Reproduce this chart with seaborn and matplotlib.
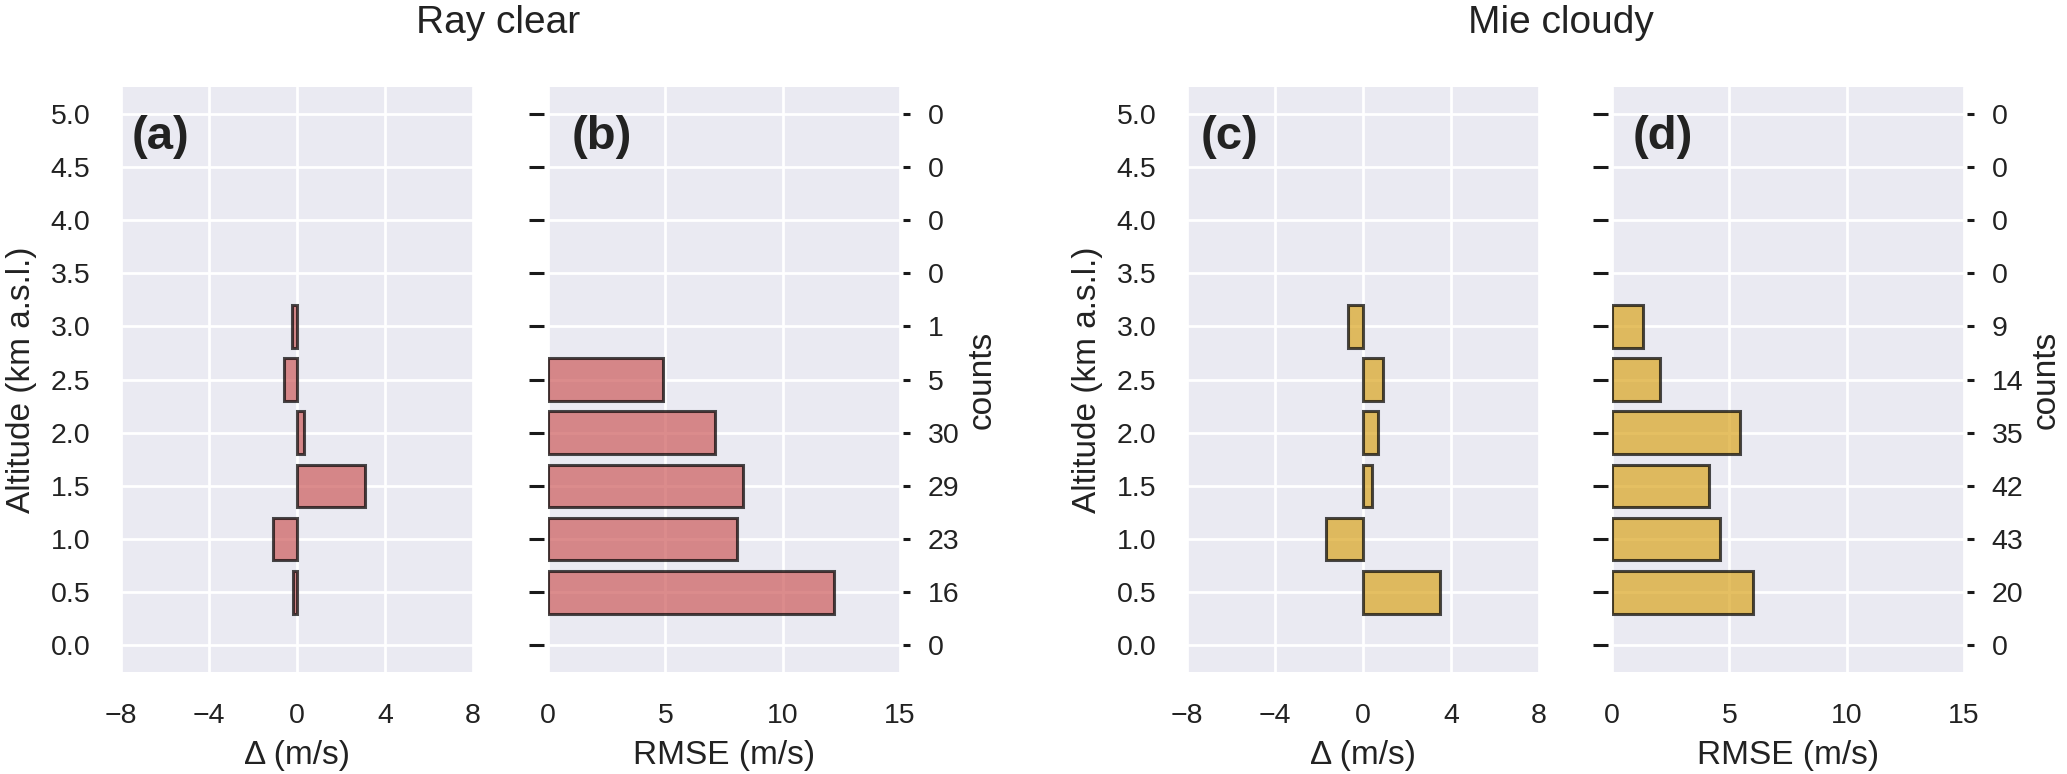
import numpy as np
import pandas as pd
import matplotlib
matplotlib.use("Agg")
import matplotlib.pyplot as plt
import seaborn as sns

# ---- data ----
alt_ticks = [0.0, 0.5, 1.0, 1.5, 2.0, 2.5, 3.0, 3.5, 4.0, 4.5, 5.0]
bar_alts = [0.5, 1.0, 1.5, 2.0, 2.5, 3.0]

ray_delta = [-0.2, -1.1, 3.1, 0.3, -0.6, -0.25]
ray_rmse = [12.2, 8.05, 8.3, 7.1, 4.9, np.nan]
ray_counts = [0, 16, 23, 29, 30, 5, 1, 0, 0, 0, 0]

mie_delta = [3.5, -1.7, 0.4, 0.7, 0.9, -0.7]
mie_rmse = [6.0, 4.6, 4.15, 5.45, 2.05, 1.3]
mie_counts = [0, 20, 43, 42, 35, 14, 9, 0, 0, 0, 0]

titles = ["Ray clear", "Mie cloudy"]
panel_letters = ["(a)", "(b)", "(c)", "(d)"]
delta_xticks = [-8, -4, 0, 4, 8]
rmse_xticks = [0, 5, 10, 15]

# ---- style ----
sns.set_theme(style="darkgrid")
plt.rcParams["font.family"] = ["Liberation Sans", "DejaVu Sans"]
plt.rcParams["grid.linewidth"] = 2.0
plt.rcParams["axes.unicode_minus"] = True

TICK_FS = 20.5
LABEL_FS = 24
TITLE_FS = 28
LETTER_FS = 34
TXT = "#222222"

fig = plt.figure(figsize=(20.67, 7.74), dpi=100)

W, H = 2067.0, 774.0
bottom = 1 - 672 / H
height = 585 / H
width = 352 / W
lefts = [121 / W, 548 / W, 1187 / W, 1612 / W]
axes = [fig.add_axes([l, bottom, width, height]) for l in lefts]

colors = ["indianred", "goldenrod"]
groups = [
    (ray_delta, ray_rmse, ray_counts),
    (mie_delta, mie_rmse, mie_counts),
]

for g, (delta, rmse, counts) in enumerate(groups):
    ax_d = axes[2 * g]
    ax_r = axes[2 * g + 1]
    col = colors[g]

    df_d = pd.DataFrame({"alt": bar_alts, "val": delta}).dropna()
    df_r = pd.DataFrame({"alt": bar_alts, "val": rmse}).dropna()

    for ax, df in ((ax_d, df_d), (ax_r, df_r)):
        sns.barplot(data=df, x="val", y="alt", orient="h", native_scale=True,
                    color=col, saturation=1, alpha=0.7, edgecolor="black",
                    linewidth=2.2, errorbar=None, ax=ax, zorder=3)
        ax.set_ylim(-0.25, 5.25)
        ax.set_yticks(alt_ticks)
        for sp in ax.spines.values():
            sp.set_visible(False)

    # delta panel
    ax_d.set_xlim(-8, 8)
    ax_d.set_xticks(delta_xticks)
    ax_d.set_yticklabels([f"{v:.1f}" for v in alt_ticks])
    ax_d.tick_params(axis="y", length=0, pad=22, labelsize=TICK_FS, labelcolor=TXT)
    ax_d.tick_params(axis="x", length=0, pad=22, labelsize=TICK_FS, labelcolor=TXT)
    ax_d.set_ylabel("Altitude (km a.s.l.)", fontsize=LABEL_FS, color=TXT, labelpad=10)
    ax_d.set_xlabel("Δ (m/s)", fontsize=LABEL_FS, color=TXT, labelpad=8)

    # rmse panel
    ax_r.set_xlim(0, 15)
    ax_r.set_xticks(rmse_xticks)
    ax_r.set_yticklabels([])
    ax_r.spines["left"].set_position(("outward", 3))
    ax_r.tick_params(axis="y", left=True, length=10.8, width=2.2, color="#1a1a1a")
    ax_r.tick_params(axis="x", length=0, pad=22, labelsize=TICK_FS, labelcolor=TXT)
    ax_r.set_ylabel("")
    ax_r.set_xlabel("RMSE (m/s)", fontsize=LABEL_FS, color=TXT, labelpad=8)

    # counts twin axis
    tw = ax_r.twinx()
    tw.grid(False)
    tw.set_ylim(ax_r.get_ylim())
    tw.set_yticks(alt_ticks)
    tw.set_yticklabels([str(c) for c in counts])
    for sp in tw.spines.values():
        sp.set_visible(False)
    tw.spines["right"].set_position(("outward", 2))
    tw.tick_params(axis="y", right=True, length=5, width=2.2, color="#1a1a1a",
                   pad=13, labelsize=TICK_FS, labelcolor=TXT)
    tw.set_ylabel("counts", fontsize=LABEL_FS, color=TXT, labelpad=5)

# panel letters
letter_x = [-7.5, 1.0, -7.4, 0.9]
for ax, lt, lx in zip(axes, panel_letters, letter_x):
    ax.text(lx, 4.99, lt, fontsize=LETTER_FS, fontweight="bold", color=TXT,
            ha="left", va="top", zorder=5)

# group titles
fig.text(498 / W, 1 - 33 / H, titles[0], fontsize=TITLE_FS, color=TXT,
         ha="center", va="baseline")
fig.text(1561 / W, 1 - 33 / H, titles[1], fontsize=TITLE_FS, color=TXT,
         ha="center", va="baseline")

fig.savefig("out.png", dpi=100)
